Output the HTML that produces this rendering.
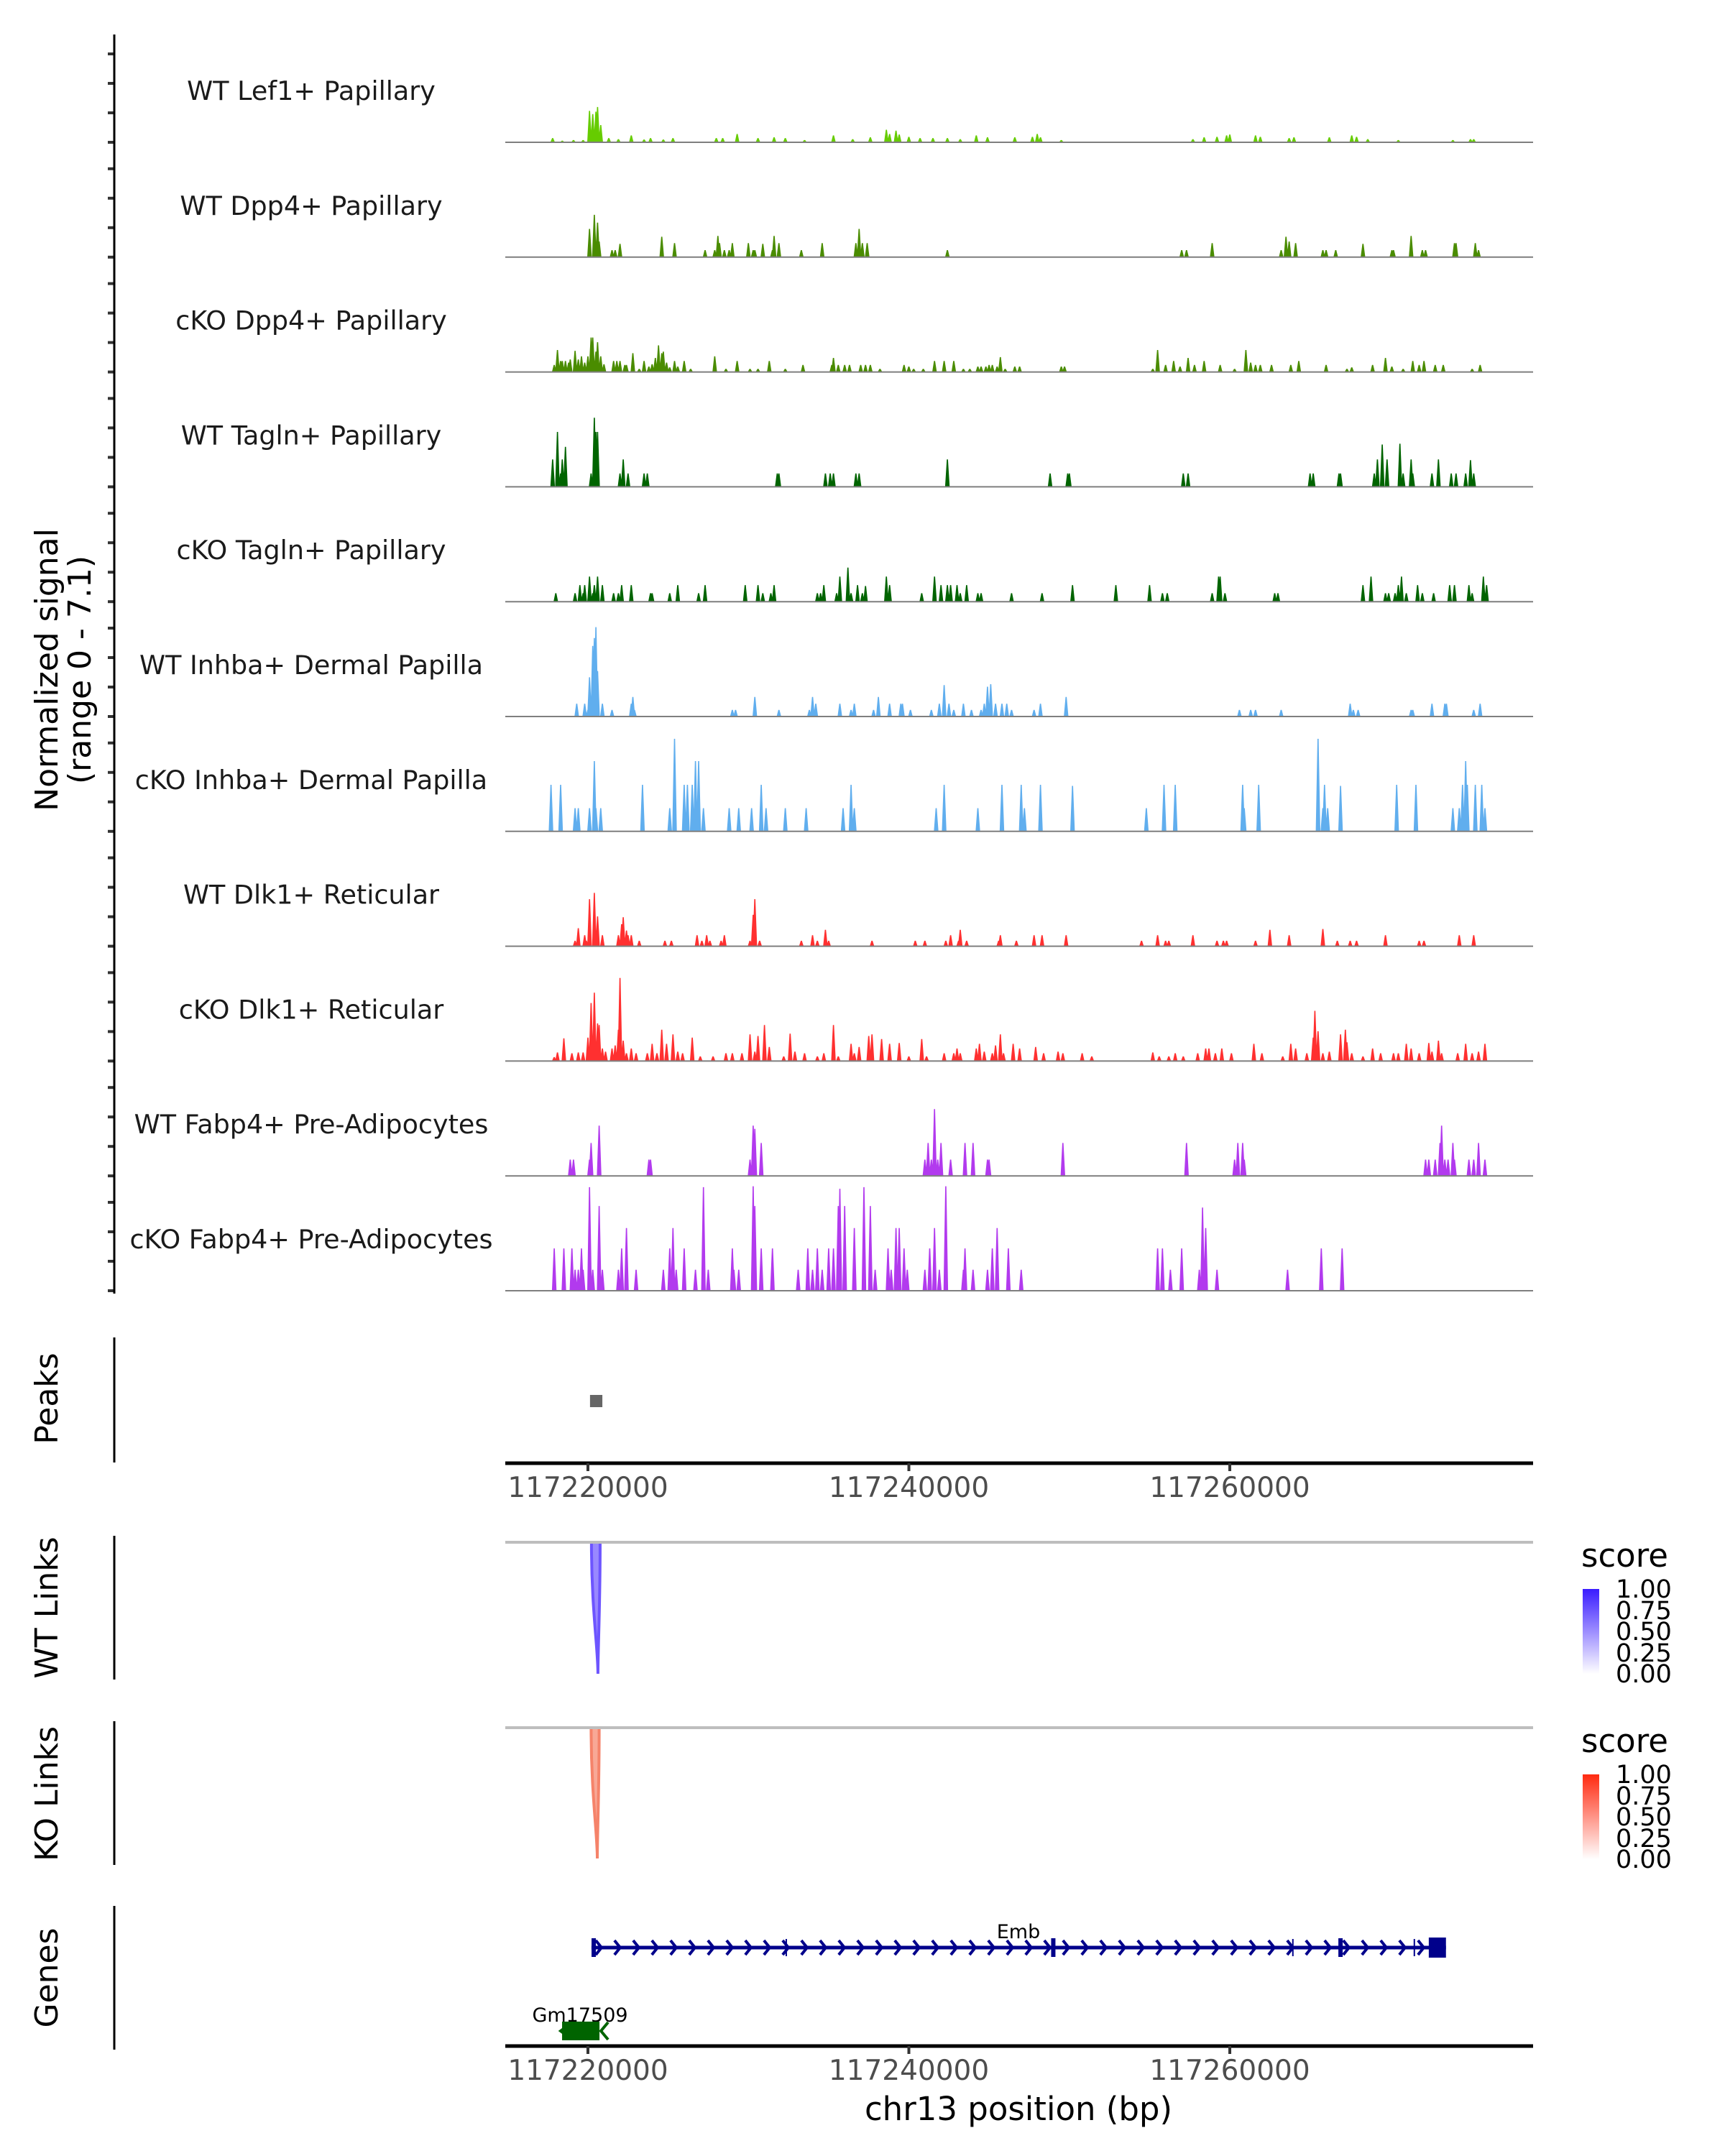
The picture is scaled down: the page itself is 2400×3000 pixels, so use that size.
<!DOCTYPE html>
<html><head><meta charset="utf-8"><style>
html,body{margin:0;padding:0;background:#fff;}
svg{display:block;font-family:"DejaVu Sans","Liberation Sans",sans-serif;}
</style></head><body>
<svg id="chart" width="2400" height="3000" viewBox="0 0 2400 3000" xmlns="http://www.w3.org/2000/svg">
<defs>
<linearGradient id="gBlue" x1="0" y1="1" x2="0" y2="0"><stop offset="0" stop-color="#ffffff"/><stop offset="1" stop-color="#3a1cff"/></linearGradient>
<linearGradient id="gRed" x1="0" y1="1" x2="0" y2="0"><stop offset="0" stop-color="#ffffff"/><stop offset="1" stop-color="#ff2a10"/></linearGradient>
</defs>
<g id="tracks"></g>
<g id="static">
<line x1="159" y1="48" x2="159" y2="1800" stroke="#000" stroke-width="3"/>
<text transform="translate(80,932) rotate(-90)" text-anchor="middle" font-size="44" fill="#000">Normalized signal</text>
<text transform="translate(126,932) rotate(-90)" text-anchor="middle" font-size="44" fill="#000">(range 0 - 7.1)</text>
<line x1="159" y1="1861" x2="159" y2="2035" stroke="#000" stroke-width="3"/>
<text transform="translate(80,1946) rotate(-90)" text-anchor="middle" font-size="44">Peaks</text>
<line x1="159" y1="2137" x2="159" y2="2337" stroke="#000" stroke-width="3"/>
<text transform="translate(80,2237) rotate(-90)" text-anchor="middle" font-size="44">WT Links</text>
<line x1="159" y1="2395" x2="159" y2="2595" stroke="#000" stroke-width="3"/>
<text transform="translate(80,2496) rotate(-90)" text-anchor="middle" font-size="44">KO Links</text>
<line x1="159" y1="2652" x2="159" y2="2852" stroke="#000" stroke-width="3"/>
<text transform="translate(80,2752) rotate(-90)" text-anchor="middle" font-size="44">Genes</text>
<line x1="703" y1="2146" x2="2133" y2="2146" stroke="#bebebe" stroke-width="4"/>
<line x1="703" y1="2404" x2="2133" y2="2404" stroke="#bebebe" stroke-width="4"/>
<text x="2200" y="2180" font-size="45">score</text>
<rect x="2202" y="2211" width="23" height="118" fill="url(#gBlue)"/>
<g font-size="35" fill="#000">
<text x="2248" y="2223">1.00</text><text x="2248" y="2253">0.75</text><text x="2248" y="2282">0.50</text><text x="2248" y="2312">0.25</text><text x="2248" y="2341">0.00</text></g>
<text x="2200" y="2438" font-size="45">score</text>
<rect x="2202" y="2469" width="23" height="118" fill="url(#gRed)"/>
<g font-size="35" fill="#000">
<text x="2248" y="2481">1.00</text><text x="2248" y="2511">0.75</text><text x="2248" y="2540">0.50</text><text x="2248" y="2570">0.25</text><text x="2248" y="2599">0.00</text></g>
<line x1="703" y1="2036" x2="2133" y2="2036" stroke="#000" stroke-width="5"/>
<line x1="703" y1="2847" x2="2133" y2="2847" stroke="#000" stroke-width="5"/>
<text x="1417" y="2950" text-anchor="middle" font-size="45">chr13 position (bp)</text>
<text x="1417" y="2697" text-anchor="middle" font-size="27">Emb</text>
<text x="807" y="2813" text-anchor="middle" font-size="27">Gm17509</text>
</g>
<g id="dyn"></g>
</svg>
<script>
// genomic positions in kb offset from chr13:117,200,000; values normalized signal (0-7.1)
const trackNames = ["WT Lef1+ Papillary","WT Dpp4+ Papillary","cKO Dpp4+ Papillary","WT Tagln+ Papillary","cKO Tagln+ Papillary","WT Inhba+ Dermal Papilla","cKO Inhba+ Dermal Papilla","WT Dlk1+ Reticular","cKO Dlk1+ Reticular","WT Fabp4+ Pre-Adipocytes","cKO Fabp4+ Pre-Adipocytes"];
const trackColors = ["#66cc00","#4a8c00","#4a8c00","#006400","#006400","#60aeee","#60aeee","#ff3030","#ff3030","#b23aee","#b23aee"];
const xTickValues = [20,40,60];
const xTickLabels = ["117220000","117240000","117260000"];
const lef1Pos=[17.8,18.4,19.1,19.7,20.1,20.3,20.5,20.6,20.8,21.3,21.9,22.7,23.5,23.9,24.7,25.3,28.0,28.4,29.3,30.6,31.6,32.3,33.5,35.3,36.5,37.6,38.6,38.8,39.2,39.4,40.0,40.7,41.5,42.4,43.2,44.2,44.9,46.6,47.7,48.0,48.2,49.5,57.7,58.4,59.2,59.8,60.0,61.6,61.9,63.7,64.0,66.2,67.6,67.9,68.6,70.5,73.9,75.0,75.2];
const lef1Val=[.27,.1,.14,.14,2.0,1.8,1.95,2.25,1.1,.27,.2,.44,.18,.27,.18,.27,.27,.27,.53,.27,.32,.27,.14,.44,.2,.32,.8,.53,.74,.5,.35,.27,.27,.27,.2,.44,.32,.32,.35,.53,.32,.14,.2,.32,.35,.44,.5,.44,.35,.27,.32,.32,.44,.35,.2,.14,.14,.2,.2];
const dpp4WtPos=[20.1,20.4,20.6,20.7,21.5,21.7,22.0,24.6,25.4,27.3,27.9,28.1,28.2,28.5,28.8,29.0,30.0,30.3,30.4,30.9,31.5,31.6,31.9,33.3,34.6,36.7,36.9,37.1,37.4,42.4,57.0,57.3,58.9,63.2,63.5,63.7,64.1,65.8,66.0,66.6,68.3,70.1,70.2,71.3,72.0,72.2,74.0,74.1,75.3,75.5];
const dpp4WtVal=[1.8,2.7,2.2,1.0,.45,.45,.85,1.3,.9,.45,.45,1.35,.9,.45,.45,.9,.9,.45,.45,.85,.45,1.35,.9,.45,.9,.9,1.8,.9,.9,.45,.45,.45,.9,.45,1.3,1.0,.9,.45,.45,.45,.85,.45,.45,1.35,.45,.45,.9,.9,.9,.45];
const dpp4KoPos=[17.9,18.1,18.3,18.4,18.6,18.8,18.9,19.2,19.4,19.6,19.8,20.0,20.2,20.3,20.5,20.6,20.8,21.0,21.6,21.8,22.0,22.3,22.4,22.8,23.2,23.5,23.8,24.0,24.2,24.4,24.6,24.7,24.9,25.1,25.4,25.6,26.0,26.4,27.9,28.6,29.3,30.1,30.6,31.3,32.3,33.4,35.2,35.3,35.6,36.0,36.3,37.0,37.3,37.6,38.2,39.7,40.0,40.3,40.9,41.6,42.2,42.8,43.4,43.8,44.3,44.5,44.8,45.0,45.2,45.5,45.7,46.0,46.6,46.9,49.5,49.7,55.2,55.5,56.0,56.5,56.9,57.4,57.8,58.4,59.4,60.3,61.0,61.3,61.6,61.9,62.6,63.8,64.3,66.0,67.3,67.6,68.9,69.7,70.1,70.8,71.4,71.8,72.1,72.8,73.3,75.1,75.6];
const dpp4KoVal=[.45,1.4,.7,.7,.7,.6,.8,1.35,.8,1.0,.6,1.0,2.2,2.2,1.3,1.9,1.0,.5,.7,.7,.7,.45,.45,1.2,.2,.7,.35,.5,.9,1.7,1.2,1.3,.6,.3,.7,.35,.7,.2,1.0,.2,.7,.2,.2,.7,.2,.45,.45,.9,.45,.45,.45,.45,.45,.45,.2,.45,.35,.2,.2,.7,.7,.7,.2,.2,.35,.35,.35,.45,.45,.35,.95,.2,.35,.35,.35,.35,.2,1.4,.45,.7,.35,.9,.45,.7,.45,.2,1.4,.6,.45,.45,.45,.45,.7,.45,.2,.3,.45,.9,.35,.2,.7,.45,.7,.45,.45,.2,.45];
const taglnWtPos=[17.8,18.1,18.3,18.4,18.6,20.2,20.4,20.5,20.6,22.0,22.2,22.5,23.5,23.7,31.8,31.9,34.8,35.1,35.3,36.7,36.9,42.4,48.8,49.9,50.0,57.1,57.4,65.0,65.2,66.8,66.9,69.0,69.2,69.5,69.8,70.6,70.8,71.3,71.4,72.6,73.0,73.8,74.1,74.7,75.0,75.2];
const taglnWtVal=[1.75,3.5,.85,1.75,2.55,.85,4.4,3.5,3.5,.85,1.75,.85,.85,.85,.85,.85,.85,.85,.85,.85,.85,1.75,.85,.85,.85,.85,.85,.85,.85,.85,.85,.85,1.75,2.7,1.75,2.75,.85,1.75,.85,.85,1.75,.85,.85,.85,1.7,.85];
const taglnKoPos=[18.0,19.2,19.5,19.7,19.8,20.1,20.3,20.4,20.6,20.9,21.6,21.9,22.1,22.7,23.9,24.0,25.1,25.6,26.9,27.3,29.8,30.6,30.9,31.4,31.6,34.3,34.5,34.7,35.5,35.7,36.2,36.4,36.8,37.1,37.3,38.6,38.8,40.8,41.6,42.0,42.4,42.6,43.0,43.2,43.6,44.3,44.5,46.4,48.3,50.2,52.9,55.0,55.8,56.1,58.9,59.3,59.4,59.7,62.8,63.0,68.3,68.8,69.7,69.9,70.3,70.5,70.7,71.0,71.7,72.0,72.7,73.7,74.0,74.9,75.1,75.8,76.0];
const taglnKoVal=[.54,.54,1.06,.54,1.06,1.6,.54,1.06,1.6,1.06,.54,.54,1.06,1.06,.54,.54,.54,1.06,.54,1.06,1.06,1.06,.54,.54,1.06,.54,.54,1.06,.54,1.6,2.17,.54,1.06,.54,1.0,1.6,1.06,.54,1.6,1.06,1.06,1.06,1.06,.54,1.06,.54,.54,.54,.54,1.06,1.06,1.06,.54,.54,.54,1.6,1.6,.54,.54,.54,1.06,1.6,.54,.54,.54,1.06,1.6,.54,1.06,.54,.54,1.06,1.06,1.06,.54,1.6,1.06];
const inhbaWtPos=[19.3,19.8,20.0,20.1,20.3,20.4,20.5,20.6,20.9,21.5,22.7,22.8,22.9,29.0,29.2,30.4,31.9,33.8,34.0,34.2,35.7,36.4,36.6,37.8,38.1,38.8,39.5,39.6,40.1,41.4,41.9,42.2,42.5,42.8,43.4,43.9,44.5,44.7,44.9,45.1,45.4,45.8,46.1,46.4,47.8,48.2,49.8,60.6,61.3,61.6,63.2,67.5,67.7,68.0,71.3,71.4,72.6,73.4,73.5,75.2,75.6];
const inhbaWtVal=[.82,.82,.42,2.5,4.5,5.0,5.7,2.9,.82,.42,.82,1.25,.42,.42,.42,1.25,.42,.42,1.25,.82,.82,.42,.82,.42,1.25,.82,.82,.82,.42,.42,.82,2.0,.82,.42,.82,.42,.42,.82,1.9,2.06,.82,.82,.82,.42,.42,.82,1.25,.42,.42,.42,.42,.82,.42,.42,.42,.42,.82,.82,.82,.42,.82];
const inhbaKoPos=[17.7,18.3,19.2,19.4,20.1,20.4,20.5,20.8,23.4,25.1,25.4,26.0,26.2,26.5,26.7,26.9,27.2,28.8,29.4,30.2,30.8,31.1,32.3,33.6,35.9,36.4,36.6,41.7,42.2,44.3,45.8,47.0,47.2,48.2,50.2,54.8,55.9,56.6,60.8,60.9,61.8,65.5,65.8,65.9,66.1,66.9,70.4,71.6,73.9,74.3,74.5,74.7,74.8,75.3,75.7,75.9];
const inhbaKoVal=[2.97,2.97,1.48,1.48,1.48,4.48,1.48,1.48,2.97,1.48,5.9,2.97,2.97,2.97,4.48,4.48,1.48,1.48,1.48,1.48,2.97,1.48,1.48,1.48,1.48,2.97,1.48,1.48,2.97,1.48,2.97,2.97,1.48,2.97,2.9,1.48,2.97,2.97,2.97,1.48,2.97,5.9,1.48,2.97,1.48,2.9,2.97,2.97,1.48,1.48,2.97,4.48,2.97,2.97,2.97,1.48];
const dlk1WtPos=[19.2,19.4,19.8,19.9,20.1,20.4,20.6,20.9,21.9,22.1,22.2,22.4,22.5,22.7,23.2,24.8,25.2,26.8,27.1,27.4,27.6,28.3,28.5,30.1,30.3,30.4,30.7,33.3,34.0,34.3,34.8,35.0,37.7,40.4,41.0,42.3,42.6,43.1,43.2,43.6,45.6,45.7,46.7,47.8,48.3,49.8,54.5,55.5,56.0,56.2,57.7,59.2,59.6,59.8,61.6,62.5,63.7,65.8,66.7,67.5,67.9,69.7,71.8,72.1,74.3,75.2];
const dlk1WtVal=[.35,1.15,.7,.35,3.0,3.4,1.9,.7,.7,1.4,1.85,1.0,.7,.7,.35,.35,.35,.7,.35,.7,.35,.35,.7,.35,2.0,3.0,.35,.35,.7,.35,1.05,.35,.35,.35,.35,.35,.7,.35,1.05,.35,.35,.7,.35,.7,.7,.7,.35,.7,.35,.35,.7,.35,.35,.35,.35,1.05,.7,1.1,.35,.35,.35,.7,.35,.35,.7,.7];
const dlk1KoPos=[17.9,18.1,18.5,19.0,19.4,19.7,20.0,20.2,20.4,20.6,20.7,20.9,21.1,21.5,21.7,21.9,22.0,22.2,22.4,22.7,23.0,23.7,24.0,24.3,24.6,24.9,25.3,25.6,25.9,26.5,27.0,27.8,28.6,29.0,29.6,30.1,30.4,30.6,31.0,31.3,32.2,32.6,32.9,33.5,34.3,34.7,35.3,35.6,36.4,36.6,36.9,37.5,37.7,38.3,38.8,39.4,40.0,40.8,41.1,42.2,42.8,43.0,43.2,44.2,44.4,44.7,45.2,45.4,45.7,45.9,46.5,46.9,47.9,48.4,49.3,49.6,50.8,51.4,55.2,55.6,56.2,56.6,57.1,58.0,58.5,58.7,59.1,59.5,60.1,61.5,62.0,63.3,63.8,64.1,64.8,65.2,65.3,65.5,65.8,66.2,66.9,67.2,67.3,67.6,68.3,68.9,69.4,70.2,70.5,71.0,71.3,71.8,72.4,72.6,73.0,73.2,74.2,74.7,75.1,75.5,75.9];
const dlk1KoVal=[.25,.55,1.45,.5,.55,.55,1.5,3.7,4.36,2.4,2.3,.8,.6,.8,1.0,2.0,5.3,1.3,.5,.8,.5,.5,1.1,.5,2.0,1.1,1.7,.6,.5,1.5,.3,.3,.5,.5,.5,1.7,.6,1.6,2.3,.9,.3,1.75,.6,.5,.3,.5,2.3,.3,1.1,.5,.9,1.6,1.7,1.4,1.1,1.15,.3,1.4,.3,.5,.5,.8,.5,.8,1.1,.6,.5,1.0,1.7,.5,1.1,.8,.9,.5,.6,.5,.5,.3,.55,.3,.3,.5,.3,.5,.8,.8,.5,.8,.5,1.1,.5,.3,1.1,.8,.5,1.5,3.2,1.9,.5,.6,1.7,2.0,1.2,.5,.3,.8,.5,.5,.5,1.1,.8,.5,1.15,.6,1.3,.5,.5,1.1,.5,.6,1.1];
const fabp4WtPos=[18.9,19.1,20.1,20.2,20.7,23.8,23.9,30.1,30.3,30.4,30.8,41.0,41.2,41.4,41.6,41.8,42.0,42.6,43.5,44.0,44.9,45.0,49.6,57.3,60.3,60.5,60.8,60.9,72.2,72.4,72.8,73.1,73.2,73.4,73.6,73.9,74.0,74.9,75.2,75.5,75.9];
const fabp4WtVal=[1.04,1.04,1.04,2.1,3.2,1.04,1.04,1.04,3.2,3.0,2.1,1.04,2.1,1.04,4.26,1.04,2.1,1.04,2.1,2.1,1.04,1.04,2.1,2.1,1.04,2.1,2.1,1.04,1.04,1.04,1.04,2.1,3.2,1.04,1.04,2.1,1.04,1.04,1.04,2.1,1.04];
const fabp4KoPos=[17.9,18.5,19.0,19.2,19.4,19.6,19.7,20.1,20.3,20.7,20.9,21.9,22.1,22.4,23.0,24.7,25.1,25.3,25.5,26.0,26.7,27.2,27.5,29.0,29.1,29.4,30.3,30.4,30.8,31.5,33.1,33.7,34.0,34.3,34.6,35.0,35.3,35.6,35.7,36.0,36.6,37.2,37.6,37.9,38.7,38.9,39.2,39.4,39.7,39.9,41.0,41.3,41.6,41.9,42.3,43.4,43.5,44.0,44.9,45.2,45.5,46.2,47.0,55.5,55.8,56.3,57.0,58.1,58.3,58.5,59.2,63.6,65.7,67.0];
const fabp4KoVal=[2.7,2.7,2.7,1.34,1.34,2.7,1.34,6.6,1.34,5.4,1.34,1.34,2.7,4.0,1.34,1.34,2.7,4.0,1.34,2.7,1.34,6.6,1.34,2.7,1.34,1.34,6.66,5.4,2.7,2.7,1.34,2.7,1.34,2.7,1.34,2.7,2.7,5.4,6.5,5.4,4.0,6.6,5.4,1.34,2.7,1.34,4.0,4.0,2.7,1.34,1.34,2.7,4.0,1.34,6.66,1.34,2.7,1.34,1.34,2.7,4.0,2.7,1.34,2.7,2.7,1.34,2.7,1.34,5.3,4.0,1.34,1.34,2.7,2.7];
const trackPos=[lef1Pos,dpp4WtPos,dpp4KoPos,taglnWtPos,taglnKoPos,inhbaWtPos,inhbaKoPos,dlk1WtPos,dlk1KoPos,fabp4WtPos,fabp4KoPos];
const trackVal=[lef1Val,dpp4WtVal,dpp4KoVal,taglnWtVal,taglnKoVal,inhbaWtVal,inhbaKoVal,dlk1WtVal,dlk1KoVal,fabp4WtVal,fabp4KoVal];
const peakStart=[20.13], peakEnd=[20.9];
const wtLinkStart=[20.22], wtLinkEnd=[20.76], wtLinkScore=[0.75];
const koLinkStart=[20.2], koLinkEnd=[20.7], koLinkScore=[0.6];
const embStart=20.22, embEnd=73.47;
const embExonPos=[20.36,32.36,49.0,63.93,66.9,71.5];
const embExonBig=[1,0,1,0,1,0];
const gmStart=18.39, gmEnd=20.72;

const NS="http://www.w3.org/2000/svg";
const X0=703, X1=2133, KB0=14.85, PXKB=(X1-X0)/64.05;
function xs(kb){return X0+(kb-KB0)*PXKB;}
const YMAX=7.1, TH=155;
function base(i){return 198+159.8*i;}
function ys(i,v){return base(i)-v/YMAX*TH;}
function mk(tag,attrs,parent){const e=document.createElementNS(NS,tag);for(const k in attrs)e.setAttribute(k,attrs[k]);parent.appendChild(e);return e;}
const tg=document.getElementById('tracks');
const dyn=document.getElementById('dyn');

for(let i=0;i<trackNames.length;i++){
  const b=base(i);
  const g=mk('g',{},tg);
  
  
  [0,41,82,123].forEach(o=>{
    const t=mk('line',{x1:150,x2:159,y1:b-o,y2:b-o,stroke:'#333','stroke-width':4},g);
    
    
  });
  const lab=mk('text',{x:433,y:b-59,'text-anchor':'middle','font-size':36.5,fill:'#1a1a1a'},g);
  lab.textContent=trackNames[i];
  
  
  const pos=trackPos[i], val=trackVal[i];
  let d='';
  for(let j=0;j<pos.length;j++){
    const x=xs(pos[j]), y=ys(i,val[j]), w=3.2;
    d+='M'+(x-w).toFixed(1)+','+b+'L'+(x-0.8).toFixed(1)+','+y.toFixed(1)+'L'+(x+0.8).toFixed(1)+','+y.toFixed(1)+'L'+(x+w).toFixed(1)+','+b+'Z';
  }
  const p=mk('path',{d:d,fill:trackColors[i]},g);
  
  
  const bl=mk('line',{x1:X0,x2:X1,y1:b,y2:b,stroke:'#7f7f7f','stroke-width':2},g);
  
  
}

for(let j=0;j<peakStart.length;j++){
  const r=mk('rect',{x:xs(peakStart[j]),y:1941,width:xs(peakEnd[j])-xs(peakStart[j]),height:17,fill:'#666'},dyn);
  
  
}
[2036,2847].forEach((ay,k)=>{
  for(let j=0;j<xTickValues.length;j++){
    const x=xs(xTickValues[j]);
    const t=mk('line',{x1:x,x2:x,y1:ay,y2:ay+11,stroke:'#333','stroke-width':4},dyn);
    
    
    const tl=mk('text',{x:x,y:ay+47,'text-anchor':'middle','font-size':39,fill:'#4d4d4d'},dyn);
    tl.textContent=xTickLabels[j];
    
    
  }
});
function arc(s,e,top,depth,color,name){
  const x1=xs(s),x2=xs(e),m=(x1+x2)/2+3;
  const d='M'+x1+','+top+' C'+x1+','+(top+depth*0.5)+' '+m+','+(top+depth*0.8)+' '+m+','+(top+depth)+' C'+m+','+(top+depth*0.8)+' '+x2+','+(top+depth*0.5)+' '+x2+','+top;
  const p=mk('path',{d:d,fill:color,'fill-opacity':0.7,stroke:color,'stroke-width':4},dyn);
  
  
}
for(let j=0;j<wtLinkStart.length;j++) arc(wtLinkStart[j],wtLinkEnd[j],2148,181,'#6d55ff','wt-link-arc');
for(let j=0;j<koLinkStart.length;j++) arc(koLinkStart[j],koLinkEnd[j],2406,180,'#f5836a','ko-link-arc');
const ey=2710;
const el=mk('line',{x1:xs(embStart),x2:xs(embEnd),y1:ey,y2:ey,stroke:'#00008b','stroke-width':5},dyn);


let cd='';
for(let x=xs(embStart)+10;x<xs(embEnd)-20;x+=26){cd+='M'+(x-4)+','+(ey-10)+'L'+(x+4)+','+ey+'L'+(x-4)+','+(ey+10);}
const ch=mk('path',{d:cd,fill:'none',stroke:'#00008b','stroke-width':4},dyn);


for(let j=0;j<embExonPos.length;j++){
  const x=xs(embExonPos[j]), big=embExonBig[j];
  const r=mk('rect',{x:x-(big?3:1),y:ey-(big?13:12),width:big?6:2,height:big?26:24,fill:'#00008b'},dyn);
  
  
}
const eb=mk('rect',{x:xs(72.4),y:ey-14,width:xs(embEnd)-xs(72.4),height:28,fill:'#00008b'},dyn);


const gb=mk('rect',{x:xs(gmStart),y:2813,width:xs(gmEnd)-xs(gmStart),height:26,fill:'#006400'},dyn);


const gx=xs(gmEnd);
const ga=mk('path',{d:'M'+(gx+12)+','+2814+'L'+(gx+2)+','+2826+'L'+(gx+12)+','+2838+'M'+(xs(gmStart)+6)+','+2820+'L'+(xs(gmStart)-2)+','+2826+'L'+(xs(gmStart)+6)+','+2832,fill:'none',stroke:'#006400','stroke-width':4},dyn);


</script>
</body></html>
